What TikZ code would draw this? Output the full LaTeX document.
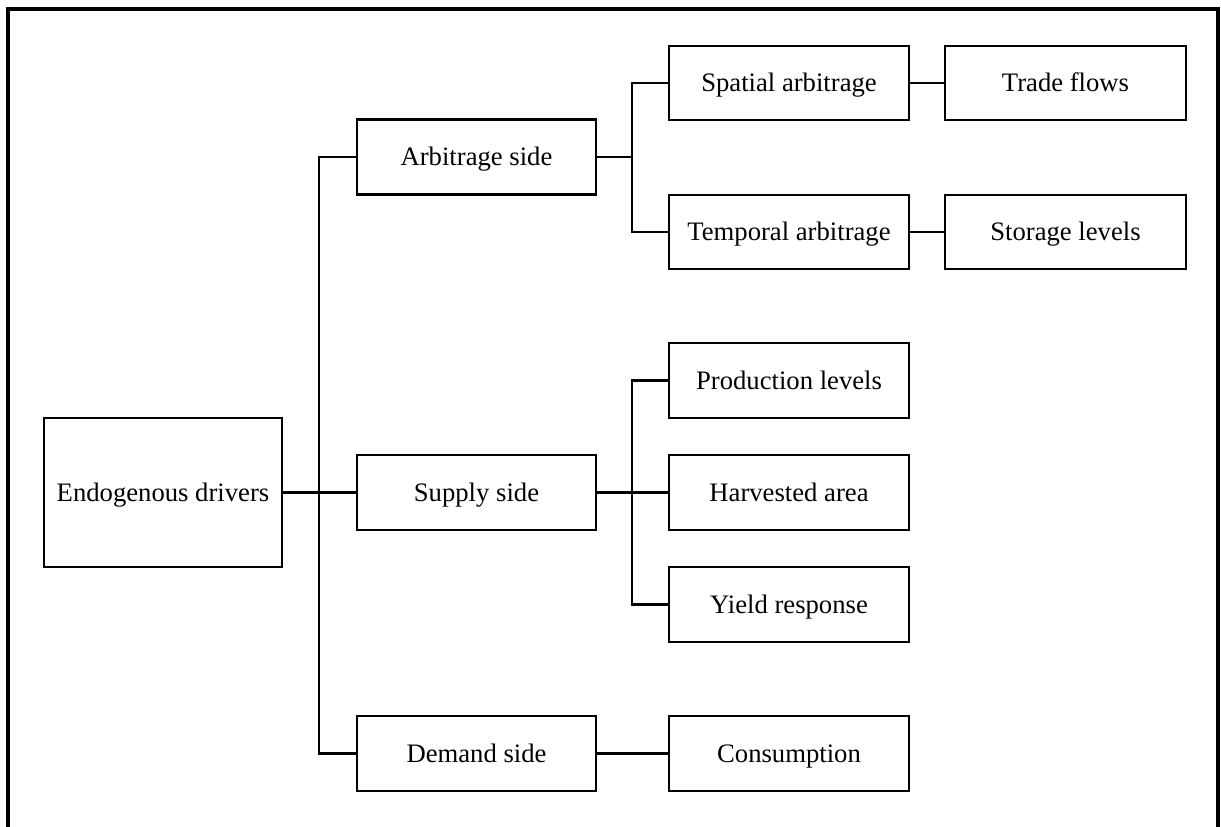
\documentclass[tikz,border=0pt]{standalone}
\usepackage{fontspec}
\setmainfont{Liberation Serif}
\begin{document}
\begin{tikzpicture}[x=0.75pt,y=-0.75pt,
  box/.style={draw,line width=1.8pt,inner sep=0pt,align=center,text height=17pt,text depth=4pt,font=\fontsize{20}{24}\selectfont},
  link/.style={line width=1.6pt},
  frame/.style={line width=2.3pt}]
\useasboundingbox (0,0) rectangle (1221,826);
\draw[frame] (8,830) -- (8,9) -- (1218,9) -- (1218,830);
\node[box,minimum width=178.5pt,minimum height=111.75pt] (endo) at (163,492.5) {Endogenous drivers};
\node[box,minimum width=179.25pt,minimum height=56.25pt] (arb) at (476.5,157) {Arbitrage side};
\node[box,minimum width=179.25pt,minimum height=56.25pt] (supply) at (476.5,492.5) {Supply side};
\node[box,minimum width=179.25pt,minimum height=56.25pt] (demand) at (476.5,753.5) {Demand side};
\node[box,minimum width=180pt,minimum height=55.5pt] (spatial) at (789,83) {Spatial arbitrage};
\node[box,minimum width=180pt,minimum height=55.5pt] (temporal) at (789,232) {Temporal arbitrage};
\node[box,minimum width=180.75pt,minimum height=55.5pt] (trade) at (1065.5,83) {Trade flows};
\node[box,minimum width=180.75pt,minimum height=55.5pt] (storage) at (1065.5,232) {Storage levels};
\node[box,minimum width=180pt,minimum height=56.25pt] (production) at (789,380.5) {Production levels};
\node[box,minimum width=180pt,minimum height=56.25pt] (harvested) at (789,492.5) {Harvested area};
\node[box,minimum width=180pt,minimum height=56.25pt] (yield) at (789,604.5) {Yield response};
\node[box,minimum width=180pt,minimum height=56.25pt] (consumption) at (789,753.5) {Consumption};
\coordinate (t1) at (319,0);
\coordinate (t2) at (632,0);
\draw[link] (arb.west) -- (arb.west -| t1) -- (demand.west -| t1) -- (demand.west);
\draw[link] (endo.east) -- (supply.west);
\draw[link] (arb.east) -- (arb.east -| t2);
\draw[link] (spatial.west) -- (spatial.west -| t2) -- (temporal.west -| t2) -- (temporal.west);
\draw[link] (spatial.east) -- (trade.west);
\draw[link] (temporal.east) -- (storage.west);
\draw[link] (production.west) -- (production.west -| t2) -- (yield.west -| t2) -- (yield.west);
\draw[link] (supply.east) -- (harvested.west);
\draw[link] (demand.east) -- (consumption.west);
\end{tikzpicture}
\end{document}
